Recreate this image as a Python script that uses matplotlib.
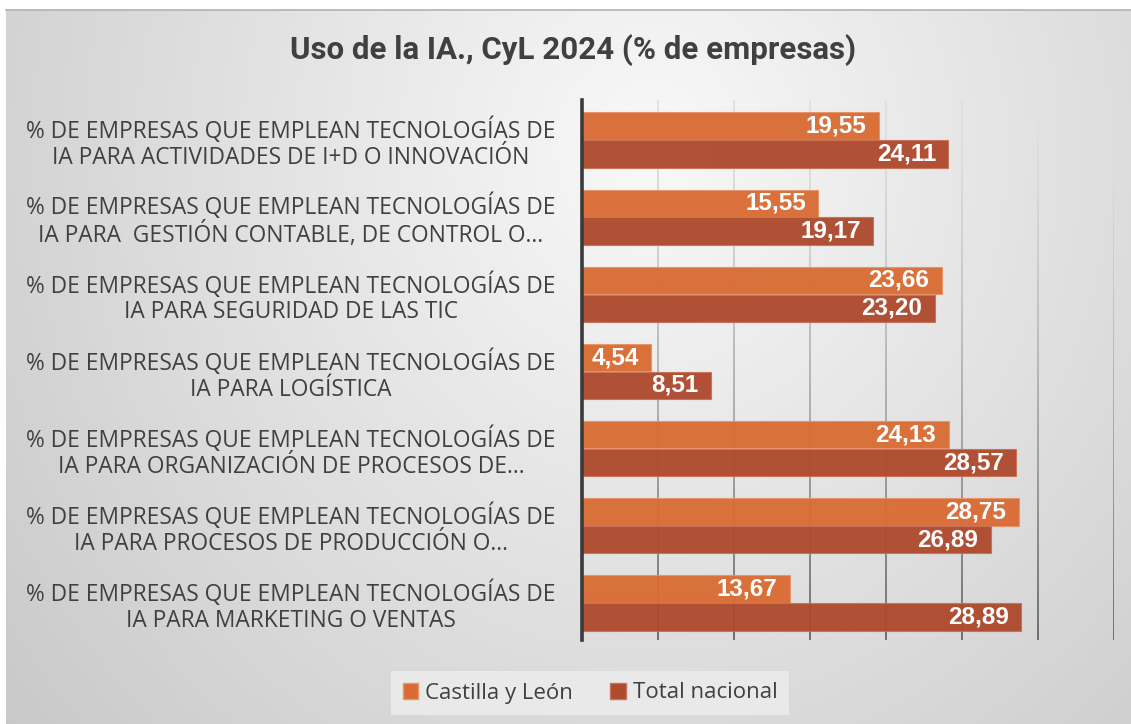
import numpy as np
import matplotlib.pyplot as plt
from matplotlib.collections import LineCollection
from matplotlib.patches import Patch

# data
line1 = "% DE EMPRESAS QUE EMPLEAN TECNOLOGÍAS DE"
line2 = [
    "IA PARA ACTIVIDADES DE I+D O INNOVACIÓN",
    "IA PARA  GESTIÓN CONTABLE, DE CONTROL O...",
    "IA PARA SEGURIDAD DE LAS TIC",
    "IA PARA LOGÍSTICA",
    "IA PARA ORGANIZACIÓN DE PROCESOS DE...",
    "IA PARA PROCESOS DE PRODUCCIÓN O...",
    "IA PARA MARKETING O VENTAS",
]
castilla = [19.55, 15.55, 23.66, 4.54, 24.13, 28.75, 13.67]
nacional = [24.11, 19.17, 23.20, 8.51, 28.57, 26.89, 28.89]
series_names = ["Castilla y León", "Total nacional"]
title = "Uso de la IA., CyL 2024 (% de empresas)"

ORANGE = "#D96C34"
RED = "#AE4A2E"
W, H = 1131, 724


def main():
    fig = plt.figure(figsize=(W / 100, H / 100), dpi=100)
    fig.patch.set_facecolor("white")

    # background panel with soft radial gradient
    bg = fig.add_axes([0, 0, 1, 1])
    bg.set_xlim(0, W)
    bg.set_ylim(H, 0)
    bg.axis("off")
    xx, yy = np.meshgrid(np.arange(6, W), np.arange(9, H))
    r = np.sqrt(((xx - 650) / 600) ** 2 + ((yy - 150) / 650) ** 2)
    shade = np.clip(0.975 - 0.135 * r, 0, 1)
    bg.imshow(np.dstack([shade] * 3), extent=(6, W, H, 9), aspect="auto", zorder=0)
    bg.plot([6, W], [9.5, 9.5], color="#b5b5b5", lw=1.2, zorder=1)

    ax = fig.add_axes([582 / W, 1 - 640 / H, 532 / W, 540 / H])
    ax.patch.set_alpha(0)
    ax.set_xlim(0, 35)
    ax.set_ylim(6.479, -0.518)

    # gridlines fading from light at top to darker at bottom
    ytop, ybot = -0.518, 6.479
    n = 80
    ys = np.linspace(ytop, ybot, n + 1)
    for gx in range(5, 36, 5):
        segs = [[(gx, ys[i]), (gx, ys[i + 1])] for i in range(n)]
        t = np.linspace(0, 1, n)
        g = 0.88 - 0.48 * t ** 1.4
        cols = np.column_stack([g, g, g, np.ones(n)])
        lc = LineCollection(segs, colors=cols, linewidths=1.3, zorder=1)
        ax.add_collection(lc)

    y = np.arange(len(castilla))
    off, h = 0.18, 0.355
    ax.barh(y - off, castilla, height=h, color=ORANGE, edgecolor="#E9946A",
            linewidth=0.8, zorder=2, alpha=0.96)
    ax.barh(y + off, nacional, height=h, color=RED, edgecolor="#C97258",
            linewidth=0.8, zorder=2, alpha=0.96)

    for vals, dy in ((castilla, -off), (nacional, off)):
        for i, v in enumerate(vals):
            ax.annotate(f"{v:.2f}".replace(".", ","), (v, i + dy),
                        xytext=(-9, 0), textcoords="offset points",
                        ha="right", va="center", color="white",
                        fontsize=17.5, fontweight="bold",
                        family="Liberation Sans", zorder=3)

    for s in ("top", "right", "bottom"):
        ax.spines[s].set_visible(False)
    ax.spines["left"].set_color("#3a3a3a")
    ax.spines["left"].set_linewidth(2.6)
    ax.set_xticks([])

    labels = [line1 + "\n" + l2 for l2 in line2]
    ax.set_yticks(y)
    ax.set_yticklabels(labels, ha="center", multialignment="center",
                       fontsize=16.4, color="#404040", family="Open Sans",
                       linespacing=1.1)
    ax.tick_params(axis="y", length=0, pad=(582 - 291) * 0.72)

    fig.text(573 / W, 1 - 50 / H, title, ha="center", va="center",
             fontsize=22.5, fontweight="bold", color="#404040", family="Roboto")

    handles = [Patch(facecolor=ORANGE, edgecolor="#E9946A"),
               Patch(facecolor=RED, edgecolor="#C97258")]
    leg = fig.legend(handles, series_names, loc="center",
                     bbox_to_anchor=(590 / W, 1 - 693 / H), ncol=2,
                     frameon=True, fancybox=False, facecolor="#e9e9e9",
                     edgecolor="none", framealpha=1, handlelength=0.7,
                     handleheight=0.7, handletextpad=0.3, columnspacing=1.7,
                     borderpad=0.5, prop={"family": "Open Sans", "size": 16})
    for t in leg.get_texts():
        t.set_color("#404040")

    fig.savefig("out.png", dpi=100)


if __name__ == "__main__":
    main()
